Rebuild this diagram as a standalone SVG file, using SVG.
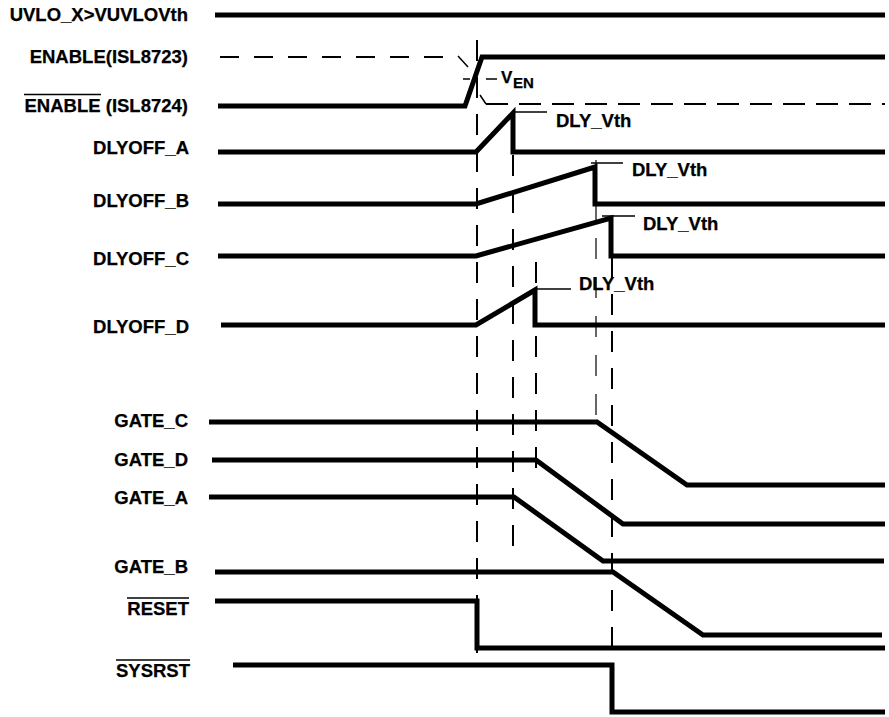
<svg xmlns="http://www.w3.org/2000/svg" width="889" height="717" viewBox="0 0 889 717">
<style>
text{font-family:"Liberation Sans",Arial,sans-serif;font-weight:bold;font-size:18.5px;fill:#000;stroke:#000;stroke-width:0.25}
.lbl{text-anchor:end}
.sig{fill:none;stroke:#000;stroke-width:5;stroke-linejoin:miter}
.thin{fill:none;stroke:#000;stroke-width:1.5}
.dash{fill:none;stroke:#000;stroke-width:2;stroke-dasharray:19,15}
.vd{fill:none;stroke:#000;stroke-width:2;stroke-dasharray:21,16}
.vdt{fill:none;stroke:#000;stroke-width:1.2;stroke-dasharray:21,18}
</style>
<rect width="889" height="717" fill="#fff"/>
<g id="connectors">
<line class="vd" x1="477" y1="40" x2="477" y2="658"/>
<line class="vd" x1="513" y1="118" x2="513" y2="552"/>
<line class="vd" x1="536" y1="262" x2="536" y2="472"/>
<line class="vdt" x1="596" y1="160" x2="596" y2="432"/>
<line class="vd" x1="612" y1="220" x2="612" y2="660"/>
</g>
<g id="uvlo">
<text class="lbl" x="188" y="21">UVLO_X&gt;VUVLOVth</text>
<path class="sig" d="M215,15 H885"/>
</g>
<g id="enable-isl8723">
<text class="lbl" x="188" y="63">ENABLE(ISL8723)</text>
<path class="dash" d="M220,57 H458"/>
<path class="thin" d="M458,56 L468,67 M480,95 L486,104"/>
<path class="dash" style="stroke-dasharray:22,11" d="M486,104 H885"/>
</g>
<g id="enable-isl8724">
<text class="lbl" x="188" y="112">ENABLE (ISL8724)</text>
<line class="thin" x1="24" y1="94.5" x2="101" y2="94.5"/>
<path class="sig" d="M218,106 H465 L482,57 H885"/>
</g>
<g id="ven">
<path class="thin" d="M463,79 H470 M486,79 H497"/>
<text x="501" y="83" style="font-size:17px">V</text>
<text x="513" y="88" style="font-size:15px">EN</text>
</g>
<g id="dlyoff-a">
<text class="lbl" x="189" y="154">DLYOFF_A</text>
<path class="sig" d="M218,152 H476 L513,113 V152 H885"/>
<path class="thin" d="M513,112 H547"/>
<text x="556" y="127">DLY_Vth</text>
</g>
<g id="dlyoff-b">
<text class="lbl" x="189" y="207">DLYOFF_B</text>
<path class="sig" d="M218,204 H476 L595,167 V204 H885"/>
<path class="thin" d="M591,163 H623"/>
<text x="632" y="176">DLY_Vth</text>
</g>
<g id="dlyoff-c">
<text class="lbl" x="189" y="265">DLYOFF_C</text>
<path class="sig" d="M218,256 H476 L611,218 V256 H885"/>
<path class="thin" d="M602,216 H635"/>
<text x="643" y="230">DLY_Vth</text>
</g>
<g id="dlyoff-d">
<text class="lbl" x="189" y="333">DLYOFF_D</text>
<path class="sig" d="M221,325 H476 L535,290 V325 H885"/>
<path class="thin" d="M535,289 H571"/>
<text x="579" y="290">DLY_Vth</text>
</g>
<g id="gate-c">
<text class="lbl" x="188" y="427">GATE_C</text>
<path class="sig" d="M209,422 H597 L687,485 H885"/>
</g>
<g id="gate-d">
<text class="lbl" x="188" y="466">GATE_D</text>
<path class="sig" d="M212,460 H536 L623,524 H885"/>
</g>
<g id="gate-a">
<text class="lbl" x="188" y="504">GATE_A</text>
<path class="sig" d="M209,497 H514 L603,561 H884"/>
</g>
<g id="gate-b">
<text class="lbl" x="188" y="573">GATE_B</text>
<path class="sig" d="M215,572 H613 L703,635 H882"/>
</g>
<g id="reset">
<text class="lbl" x="189" y="615">RESET</text>
<line class="thin" x1="127" y1="598" x2="189" y2="598"/>
<path class="sig" d="M215,601 H477 V648 H885"/>
</g>
<g id="sysrst">
<text class="lbl" x="190" y="677">SYSRST</text>
<line class="thin" x1="116" y1="660" x2="190" y2="660"/>
<path class="sig" d="M233,665 H612 V712 H885"/>
</g>
</svg>
